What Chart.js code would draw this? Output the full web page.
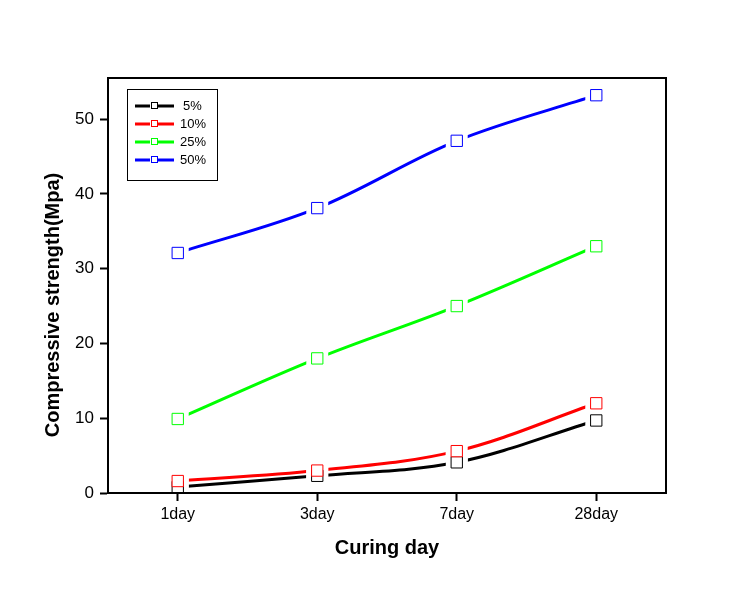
<!DOCTYPE html>
<html>
<head>
<meta charset="utf-8">
<script src="https://cdn.jsdelivr.net/npm/chart.js@4.4.1/dist/chart.umd.min.js"></script>
<style>
  html, body { margin: 0; padding: 0; background: #fff; }
  #wrap { width: 752px; height: 605px; }
</style>
</head>
<body>
<div id="wrap"><canvas id="myChart" width="752" height="605"></canvas></div>
<script>
// chart data
const days = ["1day", "3day", "7day", "28day"];
const labels = ["5%", "10%", "25%", "50%"];
const colors = ["#000000", "#ff0000", "#00ff00", "#0000ff"];
const s5 = [0.8, 2.3, 4.1, 9.7];
const s10 = [1.6, 3.0, 5.6, 12.0];
const s25 = [9.9, 18.0, 25.0, 33.0];
const s50 = [32.1, 38.1, 47.1, 53.2];
const yTicks = [0, 10, 20, 30, 40, 50];

const series = [s5, s10, s25, s50];
const FONT = "'Liberation Sans', Arial, sans-serif";

const datasets = [];
series.forEach(function (vals, i) {
  // smooth line
  datasets.push({
    label: labels[i], data: vals, borderColor: colors[i], borderWidth: 3,
    pointRadius: 0, tension: 0.35, fill: false, order: 3, isLine: true
  });
  // white gap round the marker
  datasets.push({
    label: "", data: vals, showLine: false, pointStyle: "rect",
    pointRadius: 15.5, pointBackgroundColor: "#ffffff", pointBorderWidth: 0,
    pointBorderColor: "#ffffff", order: 2
  });
  // hollow square marker, later series on top
  datasets.push({
    label: "", data: vals, showLine: false, pointStyle: "rect",
    pointRadius: 8, pointBackgroundColor: "#ffffff", pointBorderWidth: 1,
    pointBorderColor: colors[i], order: 1 - i * 0.1
  });
});

// frame, y title and legend box
const extras = {
  id: "extras",
  afterDraw: function (chart) {
    const ctx = chart.ctx;
    const a = chart.chartArea;
    ctx.save();
    ctx.strokeStyle = "#000";
    ctx.lineWidth = 2;
    ctx.strokeRect(a.left, a.top, a.right - a.left, a.bottom - a.top);

    // y axis title
    ctx.save();
    ctx.translate(53, 305);
    ctx.rotate(-Math.PI / 2);
    ctx.font = "bold 20px " + FONT;
    ctx.fillStyle = "#000";
    ctx.textAlign = "center";
    ctx.textBaseline = "middle";
    ctx.fillText("Compressive strength(Mpa)", 0, 0);
    ctx.restore();

    // legend
    const bx = a.left + 19, by = a.top + 11;
    ctx.lineWidth = 1;
    ctx.strokeRect(bx + 0.5, by + 0.5, 90, 91);
    ctx.font = "13px " + FONT;
    ctx.textBaseline = "middle";
    ctx.textAlign = "left";
    chart.data.datasets.filter(function (d) { return d.isLine; }).forEach(function (d, i) {
      const y = by + 17 + i * 18;
      ctx.strokeStyle = d.borderColor;
      ctx.lineWidth = 3;
      ctx.beginPath();
      ctx.moveTo(bx + 8, y);
      ctx.lineTo(bx + 47, y);
      ctx.stroke();
      ctx.fillStyle = "#fff";
      ctx.fillRect(bx + 23, y - 4, 8, 8);
      ctx.lineWidth = 1;
      ctx.strokeRect(bx + 24.5, y - 3.5, 6, 6);
      ctx.fillStyle = "#000";
      ctx.fillText(d.label, bx + 53 + (d.label.length < 3 ? 3 : 0), y);
    });
    ctx.restore();
  }
};

const chart = new Chart(document.getElementById("myChart").getContext("2d"), {
  type: "line",
  data: { labels: days, datasets: datasets },
  options: {
    responsive: false,
    animation: false,
    layout: { padding: { top: 78, right: 86, left: 0, bottom: 0 } },
    plugins: { legend: { display: false }, tooltip: { enabled: false } },
    scales: {
      x: {
        offset: true,
        grid: { display: true, drawOnChartArea: false, offset: false, tickLength: 8, tickWidth: 2, tickColor: "#000" },
        border: { display: true, color: "#000", width: 2 },
        ticks: { color: "#000", font: { family: FONT, size: 16 }, padding: 4 },
        title: { display: true, text: "Curing day", color: "#000", font: { family: FONT, size: 20, weight: "bold" }, padding: { top: 0, bottom: 45 } },
        afterFit: function (s) { s.height = 112; }
      },
      y: {
        min: 0, max: 55.5,
        afterBuildTicks: function (s) { s.ticks = yTicks.map(function (v) { return { value: v }; }); },
        grid: { display: true, drawOnChartArea: false, tickLength: 8, tickWidth: 2, tickColor: "#000" },
        border: { display: true, color: "#000", width: 2 },
        ticks: { color: "#000", font: { family: FONT, size: 17 }, padding: 6 },
        afterFit: function (s) { s.width = 108; }
      }
    }
  },
  plugins: [extras]
});
</script>
</body>
</html>
